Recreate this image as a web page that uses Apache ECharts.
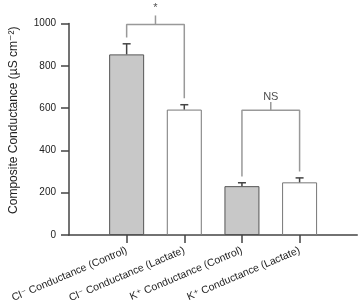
<!DOCTYPE html>
<html>
<head>
<meta charset="utf-8">
<script src="https://cdn.jsdelivr.net/npm/echarts@6/dist/echarts.min.js"></script>
<style>
  html, body { margin: 0; padding: 0; background: #fff; }
  #chart { width: 360px; height: 305px; }
</style>
</head>
<body>
<div id="chart"></div>
<script>
// bar groups (blank slots at both ends keep the axis padding of the original)
const categories = [
  "",
  "Cl\u207B Conductance (Control)",
  "Cl\u207B Conductance (Lactate)",
  "K\u207A Conductance (Control)",
  "K\u207A Conductance (Lactate)",
  "",
];
const means = [854, 593, 231, 249];
const errors = [50, 23, 16, 21];
const isControl = [true, false, true, false];

// significance brackets
const sigFrom = [1, 3];
const sigTo = [2, 4];
const sigTop = [995, 590];
const sigTip = [1038, 629];
const sigText = ["*", "NS"];
const sigTextY = [1072, 652];
const sigGap = 30;

const yTicks = [0, 200, 400, 600, 800, 1000];

const font = "Liberation Sans, Arial, DejaVu Sans, sans-serif";
const chart = echarts.init(document.getElementById("chart"), null, { renderer: "canvas" });

const barData = [null];
means.forEach((v, i) => {
  barData.push({
    value: v,
    itemStyle: {
      color: isControl[i] ? "#c8c8c8" : "#ffffff",
      borderColor: isControl[i] ? "#555" : "#777",
      borderWidth: 1,
    },
  });
});
barData.push(null);

const errData = means.map((v, i) => [i + 1, v, errors[i]]);

const series = [
  {
    type: "bar",
    data: barData,
    barWidth: 35,
    silent: true,
  },
  {
    type: "custom",
    data: errData,
    z: 3,
    renderItem: (params, api) => {
      const base = api.coord([api.value(0), api.value(1)]);
      const top = api.coord([api.value(0), api.value(1) + api.value(2)]);
      const style = { stroke: "#444", lineWidth: 1.5 };
      return {
        type: "group",
        children: [
          { type: "line", shape: { x1: base[0], y1: base[1], x2: top[0], y2: top[1] }, style },
          { type: "line", shape: { x1: top[0] - 4, y1: top[1], x2: top[0] + 4, y2: top[1] }, style },
        ],
      };
    },
  },
];

sigFrom.forEach((a, k) => {
  const b = sigTo[k];
  const leftEnd = means[a - 1] + errors[a - 1] + sigGap;
  const rightEnd = means[b - 1] + errors[b - 1] + sigGap;
  const mid = (a + b) / 2;
  const lineStyle = { color: "#999", width: 1.5 };
  series.push({
    type: "line",
    xAxisIndex: 1,
    data: [[a, leftEnd], [a, sigTop[k]], [b, sigTop[k]], [b, rightEnd]],
    symbol: "none",
    lineStyle,
    clip: false,
    silent: true,
  });
  series.push({
    type: "line",
    xAxisIndex: 1,
    data: [[mid, sigTop[k]], [mid, sigTip[k]]],
    symbol: "none",
    lineStyle,
    clip: false,
    silent: true,
  });
  series.push({
    type: "scatter",
    xAxisIndex: 1,
    data: [[mid, sigTextY[k], sigText[k]]],
    symbolSize: 1,
    itemStyle: { color: "rgba(0,0,0,0)" },
    clip: false,
    silent: true,
    label: {
      show: true,
      position: "inside",
      formatter: (p) => p.data[2],
      color: "#222",
      fontSize: 11,
      fontFamily: font,
    },
  });
});

chart.setOption({
  animation: false,
  grid: { left: 64, right: 2, top: 23.5, bottom: 70 },
  xAxis: [
    {
      type: "category",
      data: categories,
      boundaryGap: false,
      axisLine: { lineStyle: { color: "#444", width: 1.5 } },
      axisTick: {
        interval: (i, v) => v !== "",
        length: 8,
        lineStyle: { color: "#444", width: 1.5 },
      },
      axisLabel: {
        interval: 0,
        rotate: 23,
        margin: 15,
        fontSize: 10.5,
        color: "#222",
        fontFamily: font,
      },
      splitLine: { show: false },
    },
    {
      type: "value",
      min: 0,
      max: 5,
      show: false,
    },
  ],
  yAxis: {
    type: "value",
    min: yTicks[0],
    max: yTicks[yTicks.length - 1],
    interval: 200,
    name: "Composite Conductance (\u00B5S cm\u207B\u00B2)",
    nameLocation: "middle",
    nameRotate: 90,
    nameGap: 49,
    nameTextStyle: { fontSize: 12, color: "#222", fontFamily: font, padding: [0, 0, 0, 18] },
    axisLine: { show: true, lineStyle: { color: "#444", width: 1.5 } },
    axisTick: { show: true, length: 8, lineStyle: { color: "#444", width: 1.5 } },
    axisLabel: {
      margin: 13,
      fontSize: 10,
      color: "#222",
      fontFamily: font,
      formatter: (v) => String(v),
    },
    splitLine: { show: false },
  },
  series,
});
</script>
</body>
</html>
